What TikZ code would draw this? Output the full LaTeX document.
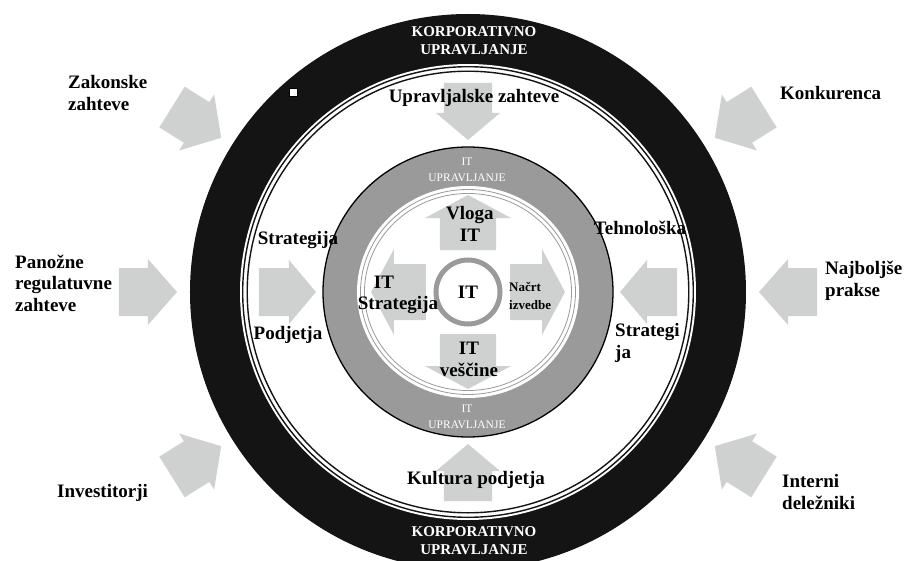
\documentclass[tikz,border=0pt]{standalone}
\usepackage{fontspec}
\setmainfont{Liberation Serif}
\definecolor{ringblack}{HTML}{141414}
\definecolor{ringgray}{HTML}{9A9A9A}
\definecolor{arrowfill}{HTML}{CFD0D0}
\begin{document}
\begin{tikzpicture}[
    x=1pt, y=1pt,
    lbl/.style={font=\fontsize{19}{21.5}\selectfont\bfseries, align=left, inner sep=0pt},
    inlbl/.style={font=\fontsize{19}{22}\selectfont\bfseries, align=center, inner sep=0pt},
    corp/.style={font=\fontsize{15}{18}\selectfont\bfseries, text=white, align=center, inner sep=0pt},
    itgov/.style={font=\fontsize{11.5}{15.5}\selectfont, text=white, align=center, inner sep=0pt},
    pics/blockarrow/.style args={#1/#2/#3/#4}{code={
        \fill[arrowfill] (0,-#4) -- (#1-#2,-#4) -- (#1-#2,-#3) -- (#1,0)
            -- (#1-#2,#3) -- (#1-#2,#4) -- (0,#4) -- cycle;
    }}
]
\useasboundingbox (-468,-268) rectangle (437,292);
\clip (-468,-268) rectangle (437,292);

% korporativno upravljanje
\fill[ringblack] (0,0) circle (278);
\fill[white] (0,0) circle (228);
\draw[ringblack, line width=1.4] (0,0) circle (225.3) (0,0) circle (220.8);
\node[draw=black, fill=white, minimum size=8pt, inner sep=0pt] (dot) at (-175,200) {};

% IT upravljanje
\fill[ringgray] (0,0) circle (145);
\draw[black, line width=1.3] (0,0) circle (145);
\fill[white] (0,0) ellipse (111 and 106);
\draw[ringgray, line width=0.8] (0,0) ellipse (107.5 and 102.5) (0,0) ellipse (103.5 and 98.5);
\draw[ringgray, line width=5] (0,0) circle (32);

% vanjske strelice
\foreach \a in {148,180,212,32,0,-32}
    \pic[rotate=\a+180] at (\a:349) {blockarrow=58/29/33/24};
% srednje strelice
\foreach \a in {90,180,0,270}
    \pic[rotate=\a+180] at (\a:209) {blockarrow=57/27/32/24};
% unutarnje strelice
\foreach \a in {90,180,0,270}
    \pic[rotate=\a] at (\a:42) {blockarrow=55/23/43/28};

% oznake
\node[corp] (korpTop) at (6,251) {KORPORATIVNO\\UPRAVLJANJE};
\node[corp] (korpBot) at (6,-249) {KORPORATIVNO\\UPRAVLJANJE};
\node[itgov] (itTop) at (-1,122) {IT\\UPRAVLJANJE};
\node[itgov] (itBot) at (-1,-125) {IT\\UPRAVLJANJE};

\node[lbl, anchor=west] (zakon) at (-400,199) {Zakonske\\zahteve};
\node[lbl, anchor=west] (panoz) at (-453,9) {Panožne\\regulatuvne\\zahteve};
\node[lbl, anchor=west] (invest) at (-411,-201) {Investitorji};
\node[lbl, anchor=west] (konk) at (312,199) {Konkurenca};
\node[lbl, anchor=west] (prakse) at (357,11) {Najboljše\\prakse};
\node[lbl, anchor=west] (interni) at (314,-200) {Interni\\deležniki};

\node[lbl] (upravZaht) at (6,194) {Upravljalske zahteve};
\node[lbl] (kultura) at (8,-188) {Kultura podjetja};
\node[lbl] (strat) at (-170,52) {Strategija};
\node[lbl] (podj) at (-180,-43) {Podjetja};
\node[lbl] (tehno) at (172,64) {Tehnološka};
\node[lbl, anchor=west] (tehStrat) at (147,-51) {Strategi\\ja};

\node[inlbl] (vloga) at (2,68) {Vloga\\IT};
\node[inlbl] (itS) at (-84,10) {IT};
\node[inlbl] (itStrat) at (-70,-13) {Strategija};
\node[lbl, font=\fontsize{13}{18}\selectfont\bfseries, anchor=west] (nacrt) at (41,-4) {Načrt\\izvedbe};
\node[inlbl] (vescine) at (1,-67) {IT\\veščine};
\node[inlbl] (center) at (0,0) {IT};
\end{tikzpicture}
\end{document}
